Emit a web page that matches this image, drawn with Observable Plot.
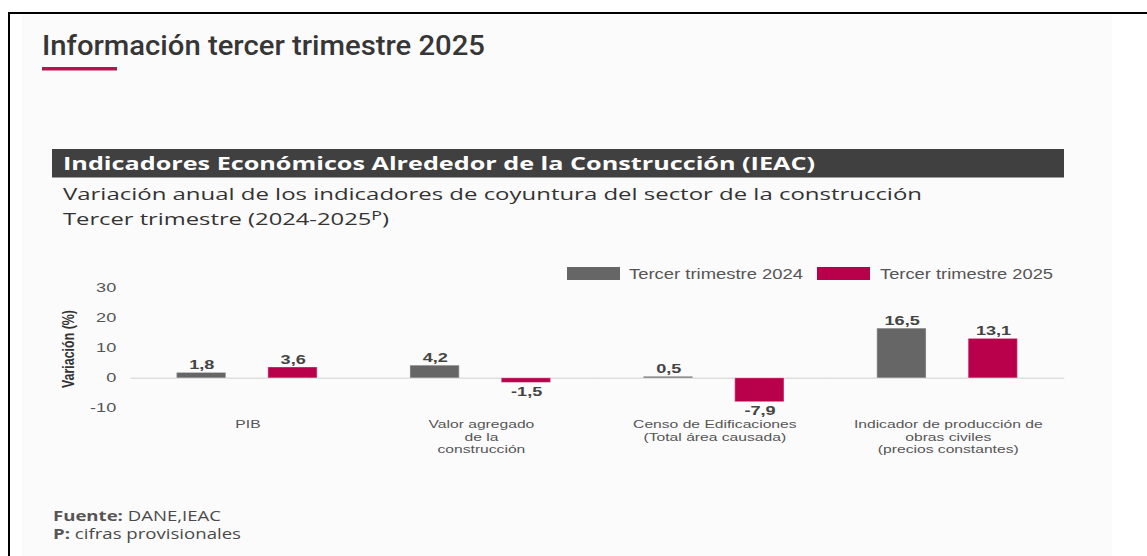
<!DOCTYPE html>
<html><head><meta charset="utf-8">
<script src="https://cdn.jsdelivr.net/npm/d3@7"></script>
<script src="https://cdn.jsdelivr.net/npm/@observablehq/plot@0.6"></script>
<style>
body{margin:0;background:#fff;}
#page{position:relative;width:1147px;height:556px;overflow:hidden;background:#fff;}
#bg{position:absolute;left:0;top:0;}
#chart{position:absolute;left:0;top:250px;transform-origin:0 0;}
</style></head><body><div id="page"><svg id="bg" width="1147" height="556"></svg><div id="chart"></div></div>
<script>
// ---- data ----
const categories = [
  "PIB",
  "Valor agregado\nde la\nconstrucción",
  "Censo de Edificaciones\n(Total área causada)",
  "Indicador de producción de\nobras civiles\n(precios constantes)"
];
const series = ["Tercer trimestre 2024", "Tercer trimestre 2025"];
const values2024 = [1.8, 4.2, 0.5, 16.5];
const values2025 = [3.6, -1.5, -7.9, 13.1];
const yTicks = [-10, 0, 10, 20, 30];
const colors = ["#666666", "#b8004b"];

const titleText = "Información tercer trimestre 2025";
const headerText = "Indicadores Económicos Alrededor de la Construcción (IEAC)";
const subtitle1 = "Variación anual de los indicadores de coyuntura del sector de la construcción";
const subtitle2 = ["Tercer trimestre (2024-2025", "P", ")"];
const yLabel = "Variación (%)";
const footer1 = ["Fuente:", " DANE,IEAC"];
const footer2 = ["P:", " cifras provisionales"];

const data = categories.flatMap((c, i) => [
  {cat: c, series: series[0], value: values2024[i]},
  {cat: c, series: series[1], value: values2025[i]}
]);
const fmt = v => d3.format(".1f")(v).replace(".", ",").replace("\u2212", "-");

// ---- page decoration & text ----
const bg = d3.select("#bg");
bg.append("rect").attr("x", 22).attr("y", 14).attr("width", 1090).attr("height", 542).attr("fill", "#fbfbfb");
bg.append("rect").attr("x", 8).attr("y", 12).attr("width", 1139).attr("height", 2).attr("fill", "#000");
bg.append("rect").attr("x", 8).attr("y", 12).attr("width", 2).attr("height", 544).attr("fill", "#000");

bg.append("text").attr("x", 42).attr("y", 55)
  .attr("font-family", "Roboto").attr("font-weight", 500).attr("font-size", 28)
  .attr("fill", "#363636").attr("textLength", 443).attr("lengthAdjust", "spacingAndGlyphs")
  .text(titleText);
bg.append("rect").attr("x", 42).attr("y", 67).attr("width", 75).attr("height", 3.5).attr("fill", "#b8124f");

bg.append("rect").attr("x", 52).attr("y", 149).attr("width", 1012).attr("height", 28.5).attr("fill", "#404040");
bg.append("text").attr("x", 63).attr("y", 170)
  .attr("font-family", "Open Sans").attr("font-weight", 700).attr("font-size", 18)
  .attr("fill", "#fff").attr("textLength", 752).attr("lengthAdjust", "spacingAndGlyphs")
  .text(headerText);

bg.append("text").attr("x", 63).attr("y", 200)
  .attr("font-family", "Open Sans").attr("font-size", 16).attr("fill", "#333")
  .attr("textLength", 859).attr("lengthAdjust", "spacingAndGlyphs")
  .text(subtitle1);
const st2 = bg.append("text").attr("x", 63).attr("y", 225)
  .attr("font-family", "Open Sans").attr("font-size", 16).attr("fill", "#333")
  .attr("textLength", 326).attr("lengthAdjust", "spacingAndGlyphs");
st2.append("tspan").text(subtitle2[0]);
st2.append("tspan").attr("font-size", 12).attr("dy", -5).text(subtitle2[1]);
st2.append("tspan").attr("dy", 5).text(subtitle2[2]);

// legend
const legX = [567, 817], legTextX = [629, 880], legW = [174, 173];
series.forEach((s, i) => {
  bg.append("rect").attr("x", legX[i]).attr("y", 267).attr("width", 53).attr("height", 13).attr("fill", colors[i]);
  bg.append("text").attr("x", legTextX[i]).attr("y", 279)
    .attr("font-family", "Liberation Sans, Arial").attr("font-size", 15).attr("fill", "#555")
    .attr("textLength", legW[i]).attr("lengthAdjust", "spacingAndGlyphs").text(s);
});

// y label
bg.append("text").attr("transform", "translate(73.5,349) rotate(-90)")
  .attr("text-anchor", "middle")
  .attr("font-family", "Liberation Sans, Arial").attr("font-weight", 700).attr("font-size", 16.5)
  .attr("fill", "#333").attr("textLength", 78).attr("lengthAdjust", "spacingAndGlyphs")
  .text(yLabel);

// footer
[[footer1, 520.5, 168], [footer2, 539, 188]].forEach(([parts, y, w]) => {
  const t = bg.append("text").attr("x", 53).attr("y", y)
    .attr("font-family", "Open Sans").attr("font-size", 14).attr("fill", "#4a4a4a")
    .attr("textLength", w).attr("lengthAdjust", "spacingAndGlyphs");
  t.append("tspan").attr("font-weight", 700).attr("fill", "#555").text(parts[0]);
  t.append("tspan").text(parts[1]);
});

// ---- chart (drawn narrow, stretched horizontally like the original) ----
const s = 1.45;
const W = 1147 / s;
const chart = Plot.plot({
  width: W,
  height: 220,
  marginLeft: 129.5 / s,
  marginRight: W - 1065 / s,
  marginTop: 37.5,
  marginBottom: 62,
  style: {background: "transparent", fontFamily: "Liberation Sans, Arial, sans-serif", overflow: "visible"},
  fx: {domain: categories, padding: 0, label: null},
  x: {domain: series, paddingInner: 0.462, paddingOuter: 0.49, axis: null},
  y: {domain: [-10, 30], label: null},
  color: {domain: series, range: colors},
  marks: [
    Plot.axisY({ticks: yTicks, tickSize: 0, tickPadding: 15 / s, fontSize: 12.5, fill: "#555",
      tickFormat: d => String(d).replace("\u2212", "-")}),
    Plot.axisFx({anchor: "bottom", tickSize: 0, tickPadding: 11, fontSize: 10.8, lineHeight: 1.16, fill: "#555", label: null}),
    Plot.ruleY([0], {stroke: "#dedede", strokeWidth: 1.5}),
    Plot.barY(data, {fx: "cat", x: "series", y: "value", fill: "series", stroke: "#fff", strokeOpacity: 0.3}),
    Plot.text(data.filter(d => d.value >= 0), {fx: "cat", x: "series", y: "value", text: d => fmt(d.value),
      lineAnchor: "bottom", dy: -4, fontWeight: "bold", fontSize: 12.5, fill: "#444"}),
    Plot.text(data.filter(d => d.value < 0), {fx: "cat", x: "series", y: "value", text: d => fmt(d.value),
      lineAnchor: "top", dy: 4, fontWeight: "bold", fontSize: 12.5, fill: "#444"})
  ]
});
const wrap = document.getElementById("chart");
wrap.style.transform = `scaleX(${s})`;
wrap.appendChild(chart);
</script></body></html>
